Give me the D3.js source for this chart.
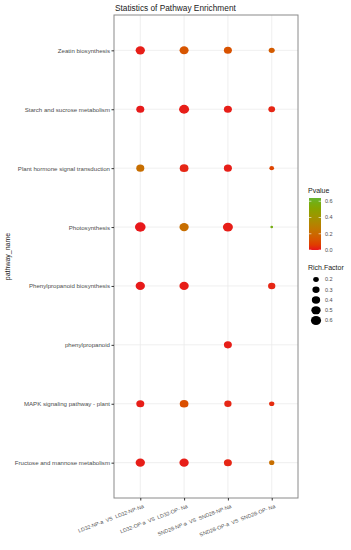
<!DOCTYPE html>
<html><head><meta charset="utf-8">
<script src="https://cdn.jsdelivr.net/npm/d3@7"></script>
<style>body{margin:0;background:#fff;} svg{display:block;font-family:"Liberation Sans",Arial,sans-serif;} text{white-space:pre;}</style>
</head><body>
<svg id="chart" width="351" height="550"></svg>
<script>
const pathways = ["Zeatin biosynthesis","Starch and sucrose metabolism","Plant hormone signal transduction","Photosynthesis","Phenylpropanoid biosynthesis","phenylpropanoid","MAPK signaling pathway - plant","Fructose and mannose metabolism"];
const comparisons = ["LD32-NP-a  VS  LD32-NP-Na","LD32-OP-a  VS  LD32-OP- Na","SND28-NP-a  VS  SND28-NP-Na","SND28-OP-a  VS  SND28-OP- Na"];
const richFactor = [
  [0.50, 0.47, 0.37, 0.22],
  [0.37, 0.58, 0.37, 0.265],
  [0.37, 0.44, 0.37, 0.155],
  [0.66, 0.50, 0.58, 0.104],
  [0.50, 0.50, null, 0.31],
  [null, null, 0.37, null],
  [0.37, 0.44, 0.31, 0.18],
  [0.50, 0.50, 0.37, 0.18]
];
const pvalue = [
  [0.01, 0.13, 0.12, 0.15],
  [0.005, 0.01, 0.01, 0.02],
  [0.22, 0.02, 0.01, 0.08],
  [0.003, 0.22, 0.01, 0.58],
  [0.005, 0.01, null, 0.02],
  [null, null, 0.01, null],
  [0.01, 0.11, 0.02, 0.03],
  [0.01, 0.01, 0.02, 0.22]
];
const pTicks = [0.0, 0.2, 0.4, 0.6];
const sizeTicks = [0.2, 0.3, 0.4, 0.5, 0.6];

const svg = d3.select("#chart");
const L = 114, R = 298, T = 15, B = 498;
const x = d3.scalePoint().domain(comparisons).range([L, R]).padding(0.6);
const y = d3.scalePoint().domain(pathways).range([T, B]).padding(0.6);
const color = d3.scaleLinear().domain([0, 0.64]).range(["#e8151c", "#66b532"]).interpolate(d3.interpolateHcl).clamp(true);
const sizeNorm = d3.scaleLinear().domain([0.1, 0.68]).range([0, 1]).clamp(true);
const sizeW = d3.scaleLinear().domain([0, 1]).range([2, 10.8]);
const dia = v => sizeW(Math.sqrt(sizeNorm(v)));

svg.append("rect").attr("x", L).attr("y", T).attr("width", R - L).attr("height", B - T).attr("fill", "#fff");
svg.append("g").selectAll("line").data(comparisons).join("line")
  .attr("x1", d => x(d)).attr("x2", d => x(d)).attr("y1", T).attr("y2", B)
  .attr("stroke", "#ebebeb").attr("stroke-width", 0.8);
svg.append("g").selectAll("line").data(pathways).join("line")
  .attr("y1", d => y(d)).attr("y2", d => y(d)).attr("x1", L).attr("x2", R)
  .attr("stroke", "#ebebeb").attr("stroke-width", 0.8);

const pts = [];
pathways.forEach((p, i) => comparisons.forEach((c, j) => {
  if (richFactor[i][j] != null) pts.push({p, c, rf: richFactor[i][j], pv: pvalue[i][j]});
}));
svg.append("g").selectAll("ellipse").data(pts).join("ellipse")
  .attr("cx", d => x(d.c)).attr("cy", d => y(d.p))
  .attr("rx", d => dia(d.rf) / 2).attr("ry", d => dia(d.rf) / 2 * 0.88)
  .attr("fill", d => color(d.pv));

svg.append("rect").attr("x", L).attr("y", T).attr("width", R - L).attr("height", B - T)
  .attr("fill", "none").attr("stroke", "#8a8a8a").attr("stroke-width", 1);

const yAxis = svg.append("g").attr("transform", `translate(${L},0)`)
  .call(d3.axisLeft(y).tickSize(2.5).tickPadding(1.5));
yAxis.select(".domain").remove();
yAxis.selectAll("line").attr("stroke", "#333");
yAxis.selectAll("text").attr("font-size", 6.1).attr("fill", "#4d4d4d").attr("font-family", "Liberation Sans, Arial, sans-serif");

const xAxis = svg.append("g").attr("transform", `translate(0,${B})`)
  .call(d3.axisBottom(x).tickSize(2.5).tickPadding(0));
xAxis.select(".domain").remove();
xAxis.selectAll("line").attr("stroke", "#333");
xAxis.selectAll("text")
  .attr("font-size", 5.3).attr("fill", "#4d4d4d").attr("font-family", "Liberation Sans, Arial, sans-serif")
  .attr("text-anchor", "end").attr("dy", null).attr("y", 0)
  .attr("transform", "translate(2,6) rotate(-21) translate(0,4)");

svg.append("text").attr("x", 115).attr("y", 10.5).attr("font-size", 8.3).attr("fill", "#1a1a1a")
  .text("Statistics of Pathway Enrichment");
svg.append("text").attr("transform", `translate(10,${(T + B) / 2}) rotate(-90)`).attr("text-anchor", "middle")
  .attr("font-size", 7).attr("fill", "#1a1a1a").text("pathway_name");

const lx = 309, barW = 12;
svg.append("text").attr("x", lx - 1).attr("y", 193).attr("font-size", 7).attr("fill", "#1a1a1a").text("Pvalue");
const py = d3.scaleLinear().domain([0, 0.64]).range([250, 198]);
const defs = svg.append("defs");
const grad = defs.append("linearGradient").attr("id", "pg").attr("x1", 0).attr("x2", 0).attr("y1", 1).attr("y2", 0);
d3.range(0, 1.0001, 0.1).forEach(t => grad.append("stop").attr("offset", t).attr("stop-color", color(t * 0.64)));
svg.append("rect").attr("x", lx).attr("y", py(0.64)).attr("width", barW).attr("height", py(0) - py(0.64)).attr("fill", "url(#pg)");
svg.append("g").selectAll("line").data(pTicks).join("line")
  .attr("x1", lx).attr("x2", lx + 2.4).attr("y1", d => py(d)).attr("y2", d => py(d)).attr("stroke", "#fff").attr("stroke-width", 0.6);
svg.append("g").selectAll("line").data(pTicks).join("line")
  .attr("x1", lx + barW - 2.4).attr("x2", lx + barW).attr("y1", d => py(d)).attr("y2", d => py(d)).attr("stroke", "#fff").attr("stroke-width", 0.6);
svg.append("g").selectAll("text").data(pTicks).join("text")
  .attr("x", lx + 16).attr("y", d => py(d)).attr("dy", "0.35em").attr("font-size", 5.5).attr("fill", "#4d4d4d")
  .text(d => d.toFixed(1));

svg.append("text").attr("x", lx - 1).attr("y", 270).attr("font-size", 7).attr("fill", "#1a1a1a").text("Rich.Factor");
const sy = d3.scalePoint().domain(sizeTicks).range([279.5, 320.5]);
svg.append("g").selectAll("ellipse").data(sizeTicks).join("ellipse")
  .attr("cx", 316).attr("cy", d => sy(d)).attr("rx", d => dia(d) / 2).attr("ry", d => dia(d) / 2 * 0.88).attr("fill", "#000");
svg.append("g").selectAll("text").data(sizeTicks).join("text")
  .attr("x", lx + 16).attr("y", d => sy(d)).attr("dy", "0.35em").attr("font-size", 5.5).attr("fill", "#4d4d4d")
  .text(d => d.toFixed(1));
</script>
</body></html>
